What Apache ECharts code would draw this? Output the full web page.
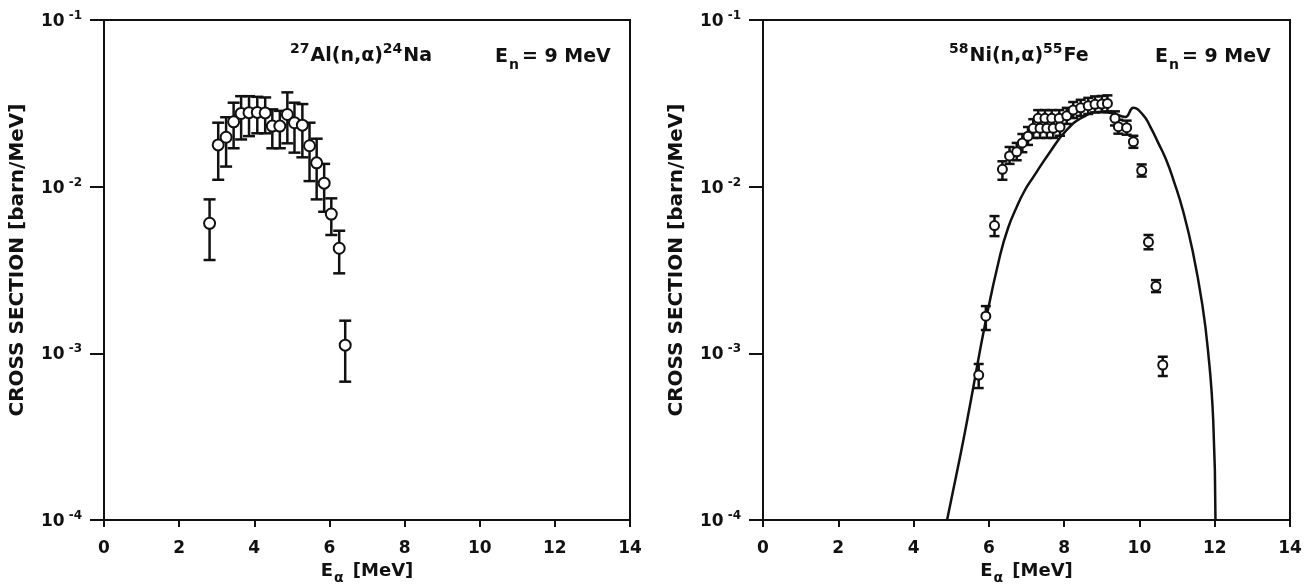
<!DOCTYPE html>
<html>
<head>
<meta charset="utf-8">
<script src="https://cdn.jsdelivr.net/npm/echarts@6/dist/echarts.min.js"></script>
<style>
    html, body { margin: 0; padding: 0; background: #fff; }
    #chart { width: 1310px; height: 584px; }
</style>
</head>
<body>
<div id="chart"></div>
<script>
// axis ticks
const xTicks = [0, 2, 4, 6, 8, 10, 12, 14];
const yTicks = [1e-4, 1e-3, 1e-2, 1e-1];
const yTickExp = ['-4', '-3', '-2', '-1'];

// 27Al(n,a)24Na, En = 9 MeV
const alX = [2.81, 3.04, 3.25, 3.45, 3.65, 3.86, 4.08, 4.29, 4.48, 4.68, 4.88, 5.07, 5.28, 5.47, 5.66, 5.86, 6.05, 6.26, 6.42];
const alY = [6.03e-3, 1.78e-2, 1.98e-2, 2.45e-2, 2.75e-2, 2.78e-2, 2.79e-2, 2.77e-2, 2.31e-2, 2.31e-2, 2.71e-2, 2.42e-2, 2.34e-2, 1.76e-2, 1.39e-2, 1.05e-2, 6.85e-3, 4.27e-3, 1.12e-3];
const alHi = [8.39e-3, 2.42e-2, 2.61e-2, 3.19e-2, 3.49e-2, 3.49e-2, 3.46e-2, 3.43e-2, 2.91e-2, 2.85e-2, 3.68e-2, 3.19e-2, 3.13e-2, 2.42e-2, 1.94e-2, 1.37e-2, 8.51e-3, 5.44e-3, 1.57e-3];
const alLo = [3.63e-3, 1.10e-2, 1.32e-2, 1.70e-2, 1.92e-2, 2.01e-2, 2.09e-2, 2.09e-2, 1.70e-2, 1.70e-2, 1.82e-2, 1.60e-2, 1.50e-2, 1.08e-2, 8.39e-3, 7.07e-3, 5.13e-3, 3.02e-3, 6.76e-4];

// 58Ni(n,a)55Fe, En = 9 MeV
const niX = [5.73, 5.92, 6.15, 6.36, 6.55, 6.74, 6.89, 7.04, 7.18, 7.31, 7.36, 7.49, 7.54, 7.67, 7.71, 7.87, 7.89, 8.07, 8.24, 8.44, 8.64, 8.82, 9.00, 9.15, 9.35, 9.44, 9.66, 9.84, 10.06, 10.24, 10.44, 10.62];
const niY = [7.41e-4, 1.67e-3, 5.84e-3, 1.27e-2, 1.53e-2, 1.62e-2, 1.83e-2, 2.01e-2, 2.24e-2, 2.57e-2, 2.24e-2, 2.57e-2, 2.24e-2, 2.57e-2, 2.24e-2, 2.57e-2, 2.28e-2, 2.66e-2, 2.88e-2, 2.97e-2, 3.06e-2, 3.12e-2, 3.13e-2, 3.16e-2, 2.57e-2, 2.29e-2, 2.26e-2, 1.86e-2, 1.25e-2, 4.65e-3, 2.53e-3, 8.51e-4];
const niHi = [8.63e-4, 1.92e-3, 6.66e-3, 1.42e-2, 1.73e-2, 1.83e-2, 2.07e-2, 2.28e-2, 2.54e-2, 2.88e-2, 2.54e-2, 2.88e-2, 2.54e-2, 2.88e-2, 2.54e-2, 2.88e-2, 2.57e-2, 2.97e-2, 3.22e-2, 3.32e-2, 3.41e-2, 3.48e-2, 3.50e-2, 3.53e-2, 2.83e-2, 2.52e-2, 2.49e-2, 2.02e-2, 1.36e-2, 5.13e-3, 2.75e-3, 9.54e-4];
const niLo = [6.19e-4, 1.38e-3, 5.05e-3, 1.10e-2, 1.37e-2, 1.44e-2, 1.61e-2, 1.78e-2, 1.96e-2, 2.28e-2, 1.96e-2, 2.28e-2, 1.96e-2, 2.28e-2, 1.96e-2, 2.28e-2, 2.02e-2, 2.38e-2, 2.58e-2, 2.66e-2, 2.73e-2, 2.79e-2, 2.80e-2, 2.83e-2, 2.33e-2, 2.08e-2, 2.05e-2, 1.71e-2, 1.15e-2, 4.21e-3, 2.33e-3, 7.31e-4];

// calculated curve (right panel)
const curveX = [4.89, 5.23, 5.50, 5.92, 6.30, 6.51, 6.74, 6.96, 7.18, 7.62, 8.07, 8.51, 8.95, 9.31, 9.62, 9.84, 10.10, 10.28, 10.49, 10.71, 10.92, 11.16, 11.42, 11.66, 11.82, 11.96, 12.02];
const curveY = [1.0e-4, 2.36e-4, 4.90e-4, 1.58e-3, 3.89e-3, 5.65e-3, 7.55e-3, 9.55e-3, 1.14e-2, 1.61e-2, 2.19e-2, 2.62e-2, 2.81e-2, 2.75e-2, 2.62e-2, 2.97e-2, 2.69e-2, 2.31e-2, 1.85e-2, 1.45e-2, 1.07e-2, 7.14e-3, 4.05e-3, 2.03e-3, 1.05e-3, 3.98e-4, 1.0e-4];

const FONT = 'DejaVu Sans';
const INK = '#111';

const chart = echarts.init(document.getElementById('chart'));

function xAxisFor(gridIndex) {
    return {
        type: 'value', gridIndex: gridIndex, min: 0, max: 14, interval: 2,
        name: '{b|E}{s|α}{b| [MeV]}',
        nameLocation: 'middle', nameGap: 42,
        nameTextStyle: {
            rich: {
                b: { fontFamily: FONT, fontWeight: 'bold', fontSize: 18, color: INK, verticalAlign: 'top' },
                s: { fontFamily: FONT, fontWeight: 'bold', fontSize: 14, color: INK, verticalAlign: 'top', padding: [9, 3, 0, 1] },
            },
        },
        axisLine: { show: true, lineStyle: { color: INK, width: 2 } },
        axisTick: { show: true, inside: false, length: 7, lineStyle: { color: INK, width: 2 } },
        axisLabel: {
            margin: 20, color: INK, fontFamily: FONT, fontWeight: 'bold', fontSize: 17,
            formatter: (v) => (xTicks.indexOf(v) >= 0 ? String(v) : ''),
        },
        splitLine: { show: false },
    };
}

function yAxisFor(gridIndex) {
    return {
        type: 'log', gridIndex: gridIndex, logBase: 10, min: yTicks[0], max: yTicks[yTicks.length - 1],
        splitNumber: 3,
        name: 'CROSS SECTION [barn/MeV]',
        nameLocation: 'middle', nameGap: 76, nameRotate: 90,
        nameTextStyle: { fontFamily: FONT, fontWeight: 'bold', fontSize: 20, color: INK, padding: [0, 0, 0, 20] },
        axisLine: { show: true, lineStyle: { color: INK, width: 2 } },
        axisTick: { show: true, inside: false, length: 14, lineStyle: { color: INK, width: 2 } },
        axisLabel: {
            margin: 22, color: INK,
            formatter: function (v) {
                let i = -1;
                yTicks.forEach((t, k) => { if (Math.abs(Math.log10(v) - Math.log10(t)) < 1e-6) i = k; });
                return i < 0 ? '' : '{b|10}{s|' + yTickExp[i] + '}';
            },
            rich: {
                b: { fontFamily: FONT, fontWeight: 'bold', fontSize: 17, color: INK, verticalAlign: 'bottom' },
                s: { fontFamily: FONT, fontWeight: 'bold', fontSize: 12, color: INK, verticalAlign: 'bottom', padding: [0, 0, 8, 4] },
            },
        },
        splitLine: { show: false },
        minorTick: { show: false },
    };
}

function errorBars(xs, lo, hi, idx, cap) {
    return {
        type: 'custom', xAxisIndex: idx, yAxisIndex: idx, z: 2, silent: true,
        data: xs.map((x, i) => [x, lo[i], hi[i]]),
        renderItem: function (params, api) {
            const top = api.coord([api.value(0), api.value(2)]);
            const bot = api.coord([api.value(0), api.value(1)]);
            const st = { stroke: INK, lineWidth: 2.5 };
            return {
                type: 'group',
                children: [
                    { type: 'line', shape: { x1: top[0], y1: top[1], x2: bot[0], y2: bot[1] }, style: st },
                    { type: 'line', shape: { x1: top[0] - cap, y1: top[1], x2: top[0] + cap, y2: top[1] }, style: st },
                    { type: 'line', shape: { x1: bot[0] - cap, y1: bot[1], x2: bot[0] + cap, y2: bot[1] }, style: st },
                ],
            };
        },
    };
}

function points(xs, ys, idx, size) {
    return {
        type: 'scatter', xAxisIndex: idx, yAxisIndex: idx, z: 3, silent: true,
        symbol: 'circle', symbolSize: size,
        itemStyle: { color: '#fff', borderColor: INK, borderWidth: 2, opacity: 1 },
        data: xs.map((x, i) => [x, ys[i]]),
    };
}

const titleRich = {
    t: { fontFamily: FONT, fontWeight: 'bold', fontSize: 19, color: INK, verticalAlign: 'bottom', padding: [0, 0, 5, 0] },
    sup: { fontFamily: FONT, fontWeight: 'bold', fontSize: 14, color: INK, verticalAlign: 'bottom', padding: [0, 1, 15, 0] },
    sub: { fontFamily: FONT, fontWeight: 'bold', fontSize: 14, color: INK, verticalAlign: 'bottom', padding: [0, 3, 0, 1] },
};

const option = {
    backgroundColor: '#fff',
    animation: false,
    title: [
        { left: 285, top: 37, text: '{sup|27}{t|Al(n,α)}{sup|24}{t|Na}', textStyle: { rich: titleRich } },
        { left: 490, top: 43, text: '{t|E}{sub|n}{t|= 9 MeV}', textStyle: { rich: titleRich } },
        { left: 944, top: 37, text: '{sup|58}{t|Ni(n,α)}{sup|55}{t|Fe}', textStyle: { rich: titleRich } },
        { left: 1150, top: 43, text: '{t|E}{sub|n}{t|= 9 MeV}', textStyle: { rich: titleRich } },
    ],
    grid: [
        { left: 104, right: 680, top: 20, bottom: 64, show: true, borderColor: INK, borderWidth: 2, backgroundColor: 'transparent', outerBoundsMode: 'none', containLabel: false },
        { left: 763, right: 20, top: 20, bottom: 64, show: true, borderColor: INK, borderWidth: 2, backgroundColor: 'transparent', outerBoundsMode: 'none', containLabel: false },
    ],
    xAxis: [xAxisFor(0), xAxisFor(1)],
    yAxis: [yAxisFor(0), yAxisFor(1)],
    series: [
        errorBars(alX, alLo, alHi, 0, 6),
        points(alX, alY, 0, 11),
        {
            type: 'line', xAxisIndex: 1, yAxisIndex: 1, z: 1, silent: true,
            showSymbol: false, smooth: 0.5,
            lineStyle: { color: INK, width: 2.5 },
            data: curveX.map((x, i) => [x, curveY[i]]),
        },
        errorBars(niX, niLo, niHi, 1, 5),
        points(niX, niY, 1, 9),
    ],
};

chart.setOption(option);
</script>
</body>
</html>
